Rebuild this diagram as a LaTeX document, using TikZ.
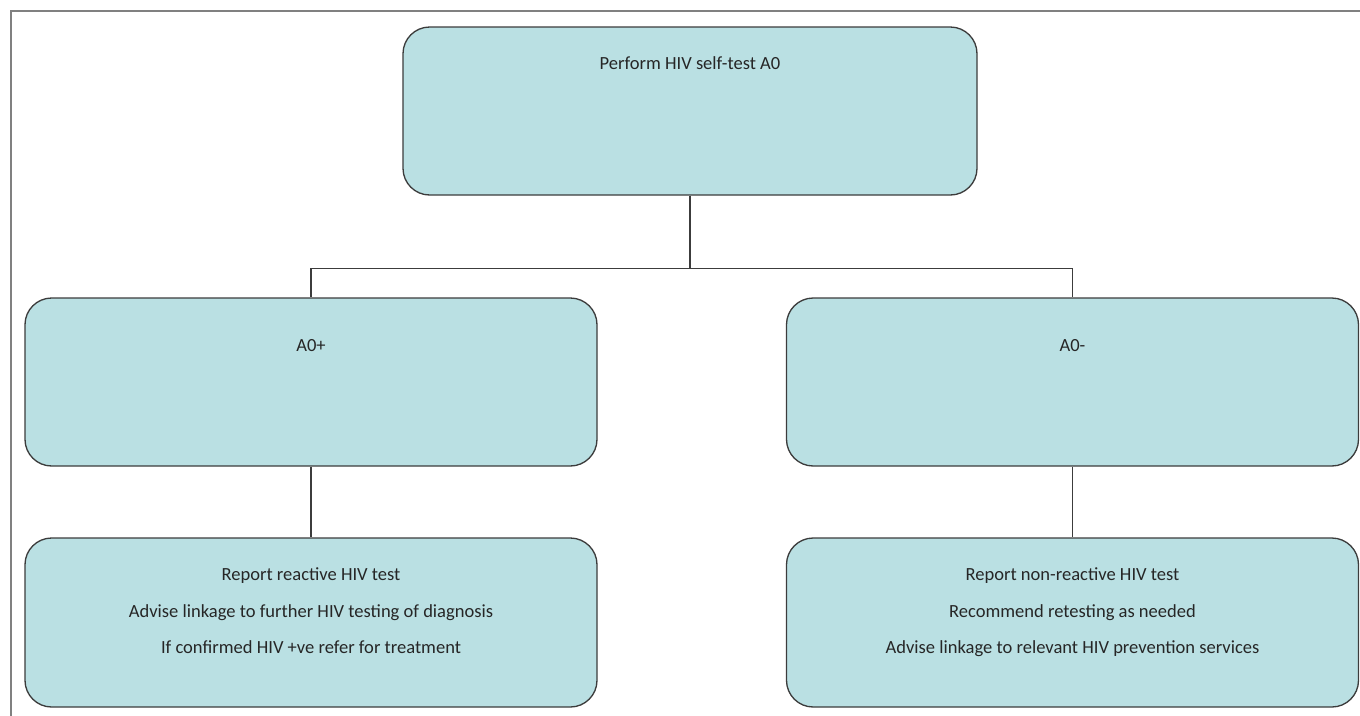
\documentclass[tikz,border=0pt]{standalone}
\usepackage{fontspec}
\setmainfont{Carlito}
\newdimen\upx
\upx=0.75pt
\definecolor{boxfill}{RGB}{186,224,227}
\definecolor{boxline}{RGB}{60,60,60}
\definecolor{txtcol}{RGB}{38,38,38}
\definecolor{framecol}{RGB}{128,128,128}
\tikzset{
  flowbox/.style={draw=boxline, fill=boxfill, line width=1pt, rounded corners=20pt,
    inner sep=0pt, minimum width=572\upx, minimum height=168\upx,
    text=txtcol, font=\fontsize{13.9}{27.4}\selectfont},
  conn/.style={draw=boxline, line width=0.8pt},
  frameline/.style={draw=framecol, line width=1.2pt}
}
\begin{document}
\begin{tikzpicture}[x=0.75pt, y=-0.75pt]
\useasboundingbox (0,0) rectangle (1360,715);
\draw[frameline] (11,716) -- (11,11) -- (1361,11);
\node[flowbox, minimum width=574\upx, text height=42\upx, text depth=126\upx] (top) at (690,111) {Perform HIV self-test A0};
\node[flowbox, text height=53\upx, text depth=115\upx] (pos) at (311,382) {A0+};
\node[flowbox, text height=53\upx, text depth=115\upx] (neg) at (1072.5,382) {A0-};
\node[flowbox, align=center, minimum height=169\upx] (posr) at (311,622.5) {Report reactive HIV test\\Advise linkage to further HIV testing of diagnosis\\If confirmed HIV +ve refer for treatment\rule[-23\upx]{0pt}{0pt}};
\node[flowbox, align=center, minimum height=169\upx] (negr) at (1072.5,622.5) {Report non-reactive HIV test\\Recommend retesting as needed\\Advise linkage to relevant HIV prevention services\rule[-23\upx]{0pt}{0pt}};
\draw[conn] (top.south) -- ++(0,73) -| (pos.north);
\draw[conn] (top.south) -- ++(0,73) -| (neg.north);
\draw[conn] (pos.south) -- (posr.north);
\draw[conn] (neg.south) -- (negr.north);
\end{tikzpicture}
\end{document}
